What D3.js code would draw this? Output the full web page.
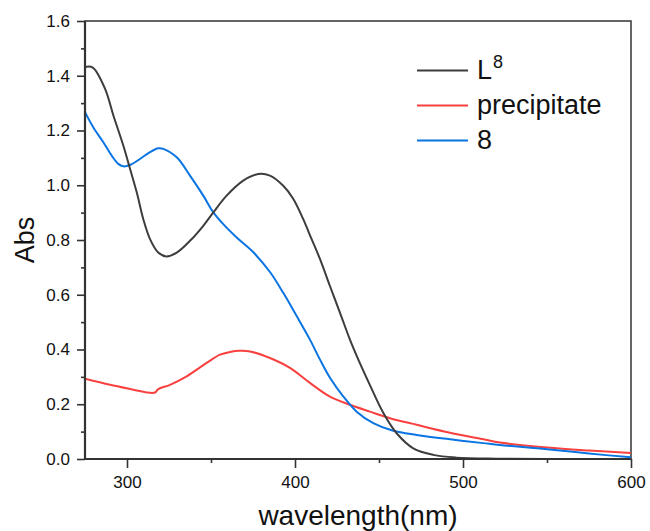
<!DOCTYPE html>
<html>
<head>
<meta charset="utf-8">
<script src="https://cdn.jsdelivr.net/npm/d3@7"></script>
<style>
  html, body { margin: 0; padding: 0; background: #fff; }
  svg text { font-family: "Liberation Sans", Arial, sans-serif; fill: #111; }
</style>
</head>
<body>
<svg id="chart" width="650" height="531"></svg>
<script>
// ---- data ----
const nmL8 = [275,279.6,286.9,291.9,297.8,301.8,305.8,309.7,313.7,318.6,323.6,329.6,337.5,345.4,351.4,359.3,369.2,378.2,385.1,393,399,404.9,409.9,414.9,420.8,426.8,432.7,437.7,444.6,452.6,460.5,470.4,482.3,496,520,560,600];
const absL8 = [1.432,1.43,1.353,1.255,1.145,1.06,0.974,0.876,0.803,0.754,0.740,0.754,0.797,0.852,0.901,0.962,1.017,1.041,1.035,0.998,0.950,0.876,0.803,0.730,0.632,0.534,0.436,0.363,0.270,0.168,0.094,0.039,0.015,0.005,0.001,0,0];

const nmPrec = [275,289.9,303.8,311.7,316.7,318.6,325.6,335.5,347.4,355.4,362,367,373.2,385.1,397,408.9,420.8,432.7,444.6,456.5,472.4,492.3,512.1,522,550,575,600];
const absPrec = [0.293,0.271,0.253,0.243,0.243,0.255,0.271,0.302,0.351,0.381,0.392,0.395,0.393,0.369,0.333,0.278,0.228,0.198,0.173,0.149,0.125,0.096,0.072,0.060,0.042,0.031,0.022];

const nm8 = [275,279.9,285.9,290.9,294.8,297.8,301.8,307.7,313.7,318.6,321.6,329.6,337.5,345.4,351.4,357.3,365.3,375.2,385.1,393,401,408.9,414.9,421,428.8,436.7,446.6,458.5,472.4,492.3,512.1,522,550,575,600];
const abs8 = [1.267,1.212,1.157,1.108,1.078,1.069,1.074,1.096,1.121,1.135,1.133,1.102,1.035,0.962,0.901,0.858,0.809,0.755,0.683,0.607,0.522,0.436,0.363,0.295,0.228,0.173,0.131,0.103,0.088,0.072,0.058,0.051,0.036,0.020,0.006];

const seriesNames = ["L", "precipitate", "8"];
const seriesColors = ["#3d3d3d", "#f8403f", "#0a74e2"];
const xTicks = [300, 400, 500, 600];
const xMinorTicks = [350, 450, 550];
const yTicks = [0.0, 0.2, 0.4, 0.6, 0.8, 1.0, 1.2, 1.4, 1.6];
const yMinorTicks = [0.1, 0.3, 0.5, 0.7, 0.9, 1.1, 1.3, 1.5];

// ---- layout ----
const svg = d3.select("#chart");
const L = 85, R = 631, T = 21, B = 459;
const x = d3.scaleLinear().domain([275, 600]).range([L, R]);
const y = d3.scaleLinear().domain([0, 1.6]).range([B, T]);
const axisColor = "#333";

// frame (top/right)
svg.append("rect").attr("x", L).attr("y", T).attr("width", R - L).attr("height", B - T)
  .attr("fill", "none").attr("stroke", axisColor).attr("stroke-width", 1.5);

// curves
const series = [
  { nm: nmL8, v: absL8 },
  { nm: nmPrec, v: absPrec },
  { nm: nm8, v: abs8 }
];
const line = d3.line().x(d => x(d[0])).y(d => y(d[1])).curve(d3.curveCatmullRom.alpha(0.5));
svg.append("clipPath").attr("id", "clip").append("rect")
  .attr("x", L).attr("y", T).attr("width", R - L).attr("height", B - T);
// draw order: red, blue, black
[1, 2, 0].forEach(i => {
  const s = series[i];
  svg.append("path")
    .datum(s.nm.map((n, k) => [n, s.v[k]]))
    .attr("d", line)
    .attr("fill", "none")
    .attr("stroke", seriesColors[i])
    .attr("stroke-width", 2)
    .attr("stroke-linejoin", "round")
    .attr("clip-path", "url(#clip)");
});

// axes
function styleAxis(g) {
  g.selectAll("path.domain").attr("stroke", axisColor).attr("stroke-width", 2.2);
  g.selectAll(".tick line").attr("stroke", axisColor).attr("stroke-width", 1.6);
  g.selectAll(".tick text").attr("font-size", 17).attr("fill", "#111")
    .attr("font-family", "'Liberation Sans', Arial, sans-serif");
}
const gxMinor = svg.append("g").attr("transform", `translate(0,${B})`)
  .call(d3.axisBottom(x).tickValues(xMinorTicks).tickSize(4).tickFormat(""));
styleAxis(gxMinor);
const gx = svg.append("g").attr("transform", `translate(0,${B})`)
  .call(d3.axisBottom(x).tickValues(xTicks).tickSize(9).tickPadding(8).tickFormat(d3.format("d")));
styleAxis(gx);

const gyMinor = svg.append("g").attr("transform", `translate(${L},0)`)
  .call(d3.axisLeft(y).tickValues(yMinorTicks).tickSize(4).tickFormat(""));
styleAxis(gyMinor);
const gy = svg.append("g").attr("transform", `translate(${L},0)`)
  .call(d3.axisLeft(y).tickValues(yTicks).tickSize(8).tickPadding(7).tickFormat(d3.format(".1f")));
styleAxis(gy);
gx.selectAll("path.domain").attr("d", `M${L},0H${R}`);
gy.selectAll("path.domain").attr("d", `M0,${B}V${T}`);
gxMinor.selectAll("path.domain").remove();
gyMinor.selectAll("path.domain").remove();

// axis titles
svg.append("text").attr("x", (L + R) / 2).attr("y", 525)
  .attr("text-anchor", "middle").attr("font-size", 28).text("wavelength(nm)");
svg.append("text").attr("transform", `translate(34,${(T + B) / 2}) rotate(-90)`)
  .attr("text-anchor", "middle").attr("font-size", 27).text("Abs");

// legend
const legY = [70.5, 105.5, 140.5];
seriesNames.forEach((name, i) => {
  svg.append("line").attr("x1", 417).attr("x2", 468).attr("y1", legY[i]).attr("y2", legY[i])
    .attr("stroke", seriesColors[i]).attr("stroke-width", 2);
  const t = svg.append("text").attr("x", 477).attr("y", legY[i] + 8).attr("font-size", 27);
  t.append("tspan").text(name);
  if (i === 0) {
    t.append("tspan").attr("font-size", 18).attr("dx", 1).attr("dy", -11).text("8");
  }
});
</script>
</body>
</html>
